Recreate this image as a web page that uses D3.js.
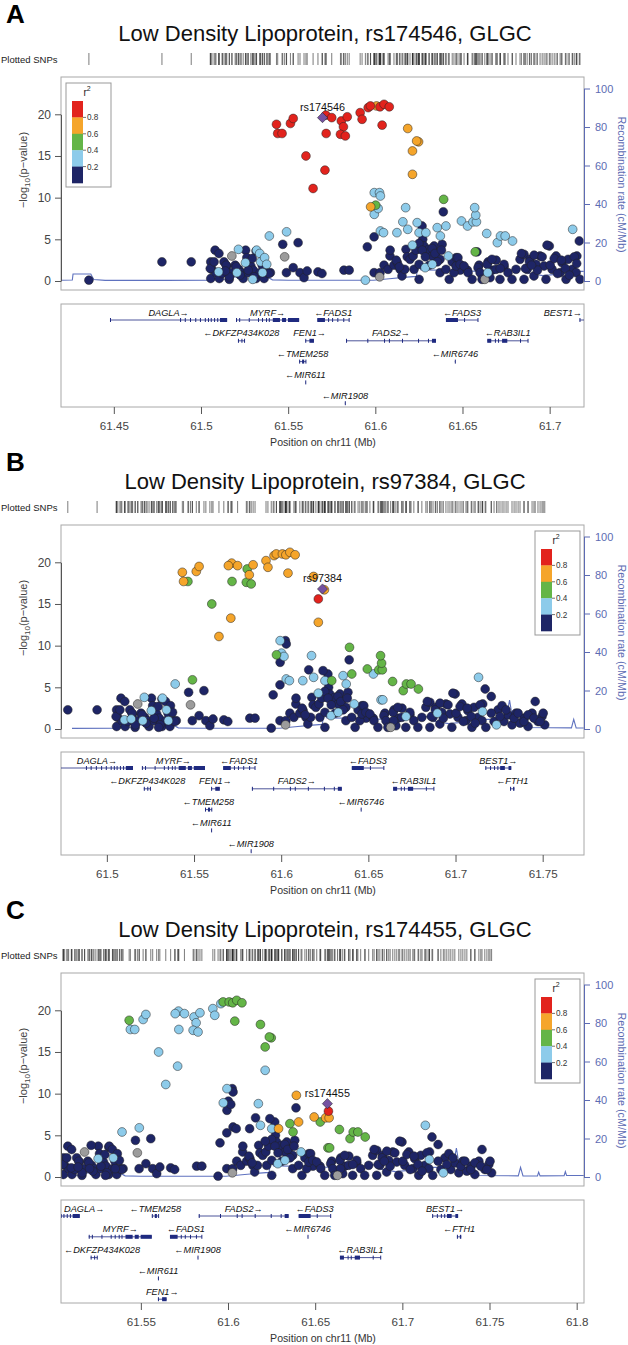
<!DOCTYPE html>
<html><head><meta charset="utf-8">
<script src="https://cdn.jsdelivr.net/npm/d3@7"></script>
<style>
body{margin:0;background:#fff}
svg{display:block;font-family:"Liberation Sans",Arial,Helvetica,sans-serif}
</style>
</head><body>
<svg id="chart" width="628" height="1345"></svg>
<script>
// ---------------- DATA ----------------
// SNPs with r2 < 0.2 to every index SNP: [position Mb, -log10 p]
const bgSnps = [
[61.4357,0.1],[61.4776,2.3],[61.4944,2.3],
[61.5056,2.3],[61.5063,1.4],[61.5081,3.7],[61.5056,0.3],[61.5086,1.0],[61.5105,0.3],[61.5123,1.0],[61.5132,2.3],[61.5148,1.8],[61.5162,0.2],[61.5178,1.0],[61.5196,1.9],[61.5217,1.4],[61.5231,1.0],[61.5242,0.3],[61.5256,3.7],[61.5263,2.8],[61.5270,1.0],[61.5286,1.8],[61.5300,1.3],[61.5316,0.3],[61.5339,1.0],[61.5362,0.3],[61.5380,1.0],[61.5398,1.0],
[61.5053,1.5],[61.5075,2.3],[61.5103,3.3],[61.5121,0.9],[61.5144,1.9],[61.5163,0.5],[61.5202,1.7],[61.5225,0.7],[61.5271,1.3],[61.5294,2.7],[61.5305,0.5],[61.5316,3.6],[61.5351,1.9],[61.5390,0.9],
[61.5469,4.4],[61.5490,1.0],[61.5529,1.6],[61.5557,4.6],[61.5568,1.0],[61.5591,0.4],[61.5609,1.2],[61.5671,1.1],[61.5694,0.9],[61.5820,1.3],[61.5850,1.3],
[61.5954,4.1],[61.5993,5.3],[61.5993,1.0],[61.6027,1.0],[61.6050,1.9],[61.6073,1.4],[61.6084,3.0],[61.6107,1.9],[61.6126,2.2],[61.6142,1.4],[61.6153,0.6],[61.6169,1.4],[61.6176,3.8],[61.6183,2.9],[61.6199,2.6],[61.6217,3.0],[61.6222,1.4],[61.6233,3.7],[61.6251,0.2],[61.6251,2.0],[61.6268,6.6],[61.6272,5.0],[61.6279,4.2],[61.6291,3.4],[61.6307,3.8],[61.6325,3.0],[61.6337,4.2],[61.6348,3.4],[61.6371,2.6],[61.6383,4.4],[61.6390,8.3],[61.6371,1.0],[61.6405,1.4],[61.6424,0.2],
[61.6085,3.7],[61.6120,2.5],[61.6138,1.7],[61.6250,4.5],[61.6269,3.7],[61.6287,2.9],[61.6310,1.9],[61.6326,3.9],[61.6342,3.3],[61.6356,2.3],[61.6379,3.7],[61.6441,2.3],[61.6464,2.8],[61.6487,1.3],[61.6528,1.3],[61.6595,1.9],[61.6613,0.7],[61.6647,2.3],[61.6670,1.3],[61.6693,2.5],[61.6739,1.7],
[61.6451,1.0],[61.6463,1.8],[61.6474,2.8],[61.6486,2.0],[61.6509,1.8],[61.6532,1.0],[61.6555,0.2],[61.6589,1.6],[61.6601,1.0],[61.6612,0.2],[61.6642,2.0],[61.6658,0.4],[61.6669,2.6],[61.6692,1.4],[61.6715,0.2],[61.6738,2.0],[61.6761,1.0],[61.6784,0.2],[61.6807,1.4],[61.6830,2.6],[61.6853,0.2],[61.6853,3.2],[61.6871,1.4],[61.6887,2.6],[61.6910,0.6],[61.6922,2.0],[61.6945,3.0],[61.6968,1.8],[61.6979,0.2],[61.6998,4.2],[61.7014,1.4],[61.7037,3.0],[61.7060,1.0],[61.7071,2.2],[61.7094,0.2],[61.7106,2.6],[61.7129,1.4],[61.7152,1.0],[61.7156,3.0],[61.7170,4.8],[61.7174,0.2],
[61.6838,3.3],[61.6861,1.5],[61.6884,2.3],[61.6911,3.1],[61.6930,1.3],[61.6957,2.9],[61.6985,4.3],[61.7003,1.9],[61.7026,2.7],[61.7045,0.9],[61.7067,2.5],[61.7090,1.5],[61.7113,0.7],[61.7141,2.9],
[61.7205,3.9],[61.7244,2.3],[61.7267,2.8],[61.7278,0.9],[61.7301,1.7],[61.7324,0.5],[61.7347,1.9],[61.7370,0.7],[61.7393,1.3],[61.7416,0.3],[61.7439,1.9],[61.7457,3.3],[61.7473,0.9],[61.7496,1.5],[61.7512,0.5],
[61.7205,1.9],[61.7221,0.9],[61.7255,1.5],[61.7290,2.3],[61.7336,1.3],[61.7359,1.9],[61.7393,0.9],[61.7416,1.7],[61.7450,1.3],[61.7485,0.9],[61.7503,1.9]
];
// SNPs without LD information (grey)
const naSnps = [[61.5177,3.0],[61.5480,2.9],[61.6025,0.5],[61.6628,0.2]];
// SNPs coloured in at least one panel: [Mb, -log10 p, LD bin vs rs174546, vs rs97384, vs rs174455]
// bins: 0 <0.2, 1 0.2-0.4, 2 0.4-0.6, 3 0.6-0.8, 4 >=0.8, 5 = index SNP
const ldSnps = [
[61.5433,18.8,4,3,2],[61.5440,17.7,4,3,1],[61.5465,17.7,4,2,1],[61.5513,18.9,4,3,1],[61.5529,19.5,4,3,1],
[61.5602,15.0,4,2,1],[61.5643,11.1,4,3,1],[61.5711,13.3,4,3,1],[61.5716,19.9,4,3,1],[61.5718,17.7,4,2,1],
[61.5750,19.6,4,3,1],[61.5805,19.2,4,2,1],[61.5817,18.5,4,3,1],[61.5800,17.6,4,2,1],[61.5828,17.4,4,2,1],
[61.5839,19.7,4,3,1],[61.5913,20.2,4,3,1],[61.5924,19.4,4,3,1],[61.5959,20.8,4,3,1],[61.5972,21.0,4,3,2],
[61.6007,21.0,3,3,2],[61.6027,20.9,4,3,2],[61.6050,21.2,4,3,2],[61.6080,20.9,4,3,2],[61.6039,18.7,4,3,2],
[61.6186,18.3,3,3,2],[61.6248,16.7,3,3,2],[61.6213,15.6,3,4,2],[61.6213,12.8,3,3,1],[61.5973,8.9,3,2,1],
[61.6002,9.1,2,1,0],[61.5994,10.6,1,1,1],[61.6024,10.6,1,0,0],[61.6029,10.2,1,0,0],[61.5994,8.0,1,0,0],
[61.6016,8.7,1,1,0],[61.6029,6.0,1,1,0],[61.6047,5.8,1,1,0],[61.6124,5.8,1,1,0],[61.6158,7.1,1,0,0],
[61.6174,8.8,1,1,1],[61.6186,6.2,1,1,1],[61.6213,4.3,1,1,0],[61.6240,7.0,1,0,0],[61.6251,5.8,1,1,1],
[61.6290,5.8,1,2,3],[61.6286,1.6,1,1,1],[61.6327,2.0,1,1,1],[61.6355,6.4,1,1,2],[61.6373,5.4,1,1,2],
[61.6392,9.8,2,2,3],[61.6405,6.6,1,2,3],[61.6419,3.0,1,1,1],[61.6494,7.2,1,2,3],[61.6529,6.6,1,1,2],
[61.6560,7.1,1,2,3],[61.6580,7.1,1,2,3],[61.6576,7.9,1,2,4],[61.6573,3.5,2,1,2],[61.6583,3.5,0,1,2],
[61.6639,5.7,1,2,2],[61.6700,4.6,1,2,2],[61.6718,5.4,1,2,2],[61.6745,5.4,1,2,2],[61.6787,4.8,1,2,2],
[61.5392,5.4,1,1,1],[61.5491,5.9,1,2,1],[61.5101,1.1,1,1,0],[61.5140,1.2,0,1,0],[61.5206,1.0,1,1,0],
[61.5215,3.8,1,1,0],[61.5255,2.2,1,1,1],[61.5319,3.7,1,1,0],[61.5337,3.3,1,0,0],[61.5342,2.3,1,1,1],
[61.5365,2.8,1,0,0],[61.5377,2.0,1,0,0],[61.5353,1.0,1,1,0],[61.5297,0.2,1,0,0],[61.7132,6.2,1,1,1],
[61.7155,2.1,0,1,1],[61.7235,0.5,0,1,1],[61.6896,1.9,0,1,0],[61.6645,1.0,1,0,0],[61.6716,1.5,0,1,0],
[61.5943,0.1,1,0,0],
[61.5697,19.6,5,3,1],[61.6237,16.8,3,5,2],[61.6570,8.8,1,2,5]
];
// recombination rate (cM/Mb)
const recombRate = [
[61.4197,0.4],[61.4262,0.5],[61.4266,3.6],[61.4368,3.6],[61.4385,0.8],[61.4450,0.3],[61.4800,0.3],[61.5050,0.4],[61.5150,1.0],[61.5200,2.2],[61.5255,3.8],[61.5320,4.2],[61.5370,2.6],[61.5410,0.6],[61.5500,0.4],[61.5990,0.4],[61.6080,1.2],[61.6180,2.0],[61.6235,2.4],[61.6247,8.2],[61.6262,5.8],[61.6400,5.6],[61.6600,5.0],[61.6760,5.4],[61.6830,6.6],[61.6880,4.0],[61.6960,2.8],[61.7060,3.6],[61.7180,5.0],[61.7290,5.0],[61.7310,15.0],[61.7330,4.0],[61.7400,0.8],[61.7665,0.6],[61.7678,5.0],[61.7692,0.6],[61.7775,0.5],[61.7782,2.5],[61.7790,0.6],[61.7928,0.7],[61.7935,2.8],[61.7942,0.8],[61.8042,0.8]
];
// genes: [name, strand, start, end, exons]
const genes = [
["DAGLA","+",61.4478,61.5150,[[61.4478,61.4481],[61.4880,61.4884],[61.4907,61.4910],[61.4937,61.4940],[61.4967,61.4970],[61.4994,61.4997],[61.5022,61.5026],[61.5040,61.5044],[61.5056,61.5060],[61.5075,61.5079],[61.5093,61.5097],[61.5109,61.5150]]],
["MYRF","+",61.5201,61.5563,[[61.5201,61.5204],[61.5219,61.5222],[61.5274,61.5277],[61.5327,61.5330],[61.5350,61.5353],[61.5373,61.5376],[61.5389,61.5392],[61.5412,61.5453],[61.5465,61.5488],[61.5499,61.5563]]],
["FADS1","-",61.5667,61.5850,[[61.5667,61.5711],[61.5729,61.5732],[61.5752,61.5755],[61.5782,61.5785],[61.5816,61.5819],[61.5847,61.5850]]],
["FADS3","-",61.6405,61.6589,[[61.6405,61.6474],[61.6509,61.6512],[61.6586,61.6589]]],
["BEST1","+",61.7171,61.7320,[[61.7171,61.7174],[61.7198,61.7201],[61.7221,61.7224],[61.7240,61.7243],[61.7256,61.7283],[61.7304,61.7320]]],
["DKFZP434K028","-",61.5212,61.5251,[[61.5212,61.5216],[61.5232,61.5235],[61.5247,61.5251]]],
["FEN1","+",61.5598,61.5648,[[61.5598,61.5601],[61.5622,61.5648]]],
["FADS2","+",61.5832,61.6348,[[61.5832,61.5835],[61.5954,61.5957],[61.6050,61.6053],[61.6078,61.6081],[61.6153,61.6156],[61.6245,61.6248],[61.6302,61.6305],[61.6325,61.6348]]],
["RAB3IL1","-",61.6642,61.6876,[[61.6642,61.6665],[61.6686,61.6689],[61.6704,61.6707],[61.6727,61.6757],[61.6830,61.6833],[61.6873,61.6876]]],
["TMEM258","-",61.5563,61.5602,[[61.5563,61.5566],[61.5580,61.5592],[61.5599,61.5602]]],
["MIR6746","-",61.6456,61.6457,[[61.6456,61.6457]]],
["MIR611","-",61.5598,61.5599,[[61.5598,61.5599]]],
["MIR1908","-",61.5825,61.5826,[[61.5825,61.5826]]],
["FTH1","-",61.7313,61.7338,[[61.7313,61.7318],[61.7330,61.7338]]]
];
const geneRowsA = {DAGLA:0,MYRF:0,FADS1:0,FADS3:0,BEST1:0,DKFZP434K028:1,FEN1:1,FADS2:1,RAB3IL1:1,TMEM258:2,MIR6746:2,MIR611:3,MIR1908:4};
const geneRowsB = {DAGLA:0,MYRF:0,FADS1:0,FADS3:0,BEST1:0,DKFZP434K028:1,FEN1:1,FADS2:1,RAB3IL1:1,FTH1:1,TMEM258:2,MIR6746:2,MIR611:3,MIR1908:4};
const geneRowsC = {DAGLA:0,TMEM258:0,FADS2:0,FADS3:0,BEST1:0,MYRF:1,FADS1:1,MIR6746:1,FTH1:1,DKFZP434K028:2,MIR1908:2,RAB3IL1:2,MIR611:3,FEN1:4};
const ticksA = [61.45,61.5,61.55,61.6,61.65,61.7];
const ticksB = [61.5,61.55,61.6,61.65,61.7,61.75];
const ticksC = [61.55,61.6,61.65,61.7,61.75,61.8];
const yTicks = [0,5,10,15,20];
const recombTicks = [0,20,40,60,80,100];
const legendBreaks = ["0.8","0.6","0.4","0.2"];

const panels = [
 {letter:"A", title:"Low Density Lipoprotein, rs174546, GLGC", lead:"rs174546", domain:[61.4197,61.7197], ticks:ticksA, col:2, rows:geneRowsA, legendLeft:66},
 {letter:"B", title:"Low Density Lipoprotein, rs97384, GLGC", lead:"rs97384", domain:[61.4737,61.7737], ticks:ticksB, col:3, rows:geneRowsB, legendLeft:535},
 {letter:"C", title:"Low Density Lipoprotein, rs174455, GLGC", lead:"rs174455", domain:[61.5042,61.8042], ticks:ticksC, col:4, rows:geneRowsC, legendLeft:535}
];

// ---------------- STYLE ----------------
const binColor = {0:"#1e2566",1:"#8dcbea",2:"#64b547",3:"#f5a52b",4:"#e2231d",5:"#7552a1",9:"#9c9c9c"};
const legendColors = ["#e2231d","#f5a52b","#64b547","#8dcbea","#1e2566"];
const drawOrder = {0:0,9:1,1:2,2:3,3:4,4:5,5:6};
const recColor = "#5f72bf";
const axisBlue = "#5d6bb3";
const geneColor = "#1f2a80";

const svg = d3.select("#chart");
const PANEL_H = 448;
const box = {l:61, r:584, t:77, b:290};
const gbox = {t:304, b:407};

panels.forEach((p, i) => {
  const g = svg.append("g").attr("transform", `translate(0,${i*PANEL_H})`);
  const x = d3.scaleLinear().domain(p.domain).range([box.l, box.r]);
  const y = d3.scaleLinear().domain([0,20]).range([281,114.3]);
  const yr = d3.scaleLinear().domain([0,100]).range([281,88.5]);

  // letter + title
  g.append("text").attr("x",6).attr("y",23).attr("font-size",26).attr("font-weight","bold").text(p.letter);
  g.append("text").attr("x",325).attr("y",41).attr("text-anchor","middle").attr("font-size",22).attr("fill","#111").text(p.title);

  // points list
  const pts = [];
  bgSnps.forEach(d => pts.push({mb:d[0], lp:d[1], bin:0}));
  naSnps.forEach(d => pts.push({mb:d[0], lp:d[1], bin:9}));
  ldSnps.forEach(d => pts.push({mb:d[0], lp:d[1], bin:d[p.col]}));
  const vis = pts.filter(d => d.mb >= p.domain[0] && d.mb <= p.domain[1]);
  vis.sort((a,b) => drawOrder[a.bin]-drawOrder[b.bin]);

  // Plotted SNPs rug
  g.append("text").attr("x",1).attr("y",63).attr("font-size",9.5).attr("fill","#222").text("Plotted SNPs");
  g.append("g").selectAll("line").data(vis).join("line")
    .attr("x1",d=>x(d.mb)).attr("x2",d=>x(d.mb)).attr("y1",53).attr("y2",65)
    .attr("stroke","#222").attr("stroke-width",0.6);

  // clip
  const cid = "clip"+i, gcid = "gclip"+i;
  g.append("clipPath").attr("id",cid).append("rect").attr("x",box.l).attr("y",box.t).attr("width",box.r-box.l).attr("height",box.b-box.t);
  g.append("clipPath").attr("id",gcid).append("rect").attr("x",box.l).attr("y",gbox.t).attr("width",box.r-box.l).attr("height",gbox.b-gbox.t);

  // recombination line
  g.append("path").attr("clip-path",`url(#${cid})`)
    .datum(recombRate.filter(d => d[0] >= p.domain[0]-0.01 && d[0] <= p.domain[1]+0.01))
    .attr("d", d3.line().x(d=>x(d[0])).y(d=>yr(d[1])))
    .attr("fill","none").attr("stroke",recColor).attr("stroke-width",1.1);

  // points
  const pg = g.append("g").attr("clip-path",`url(#${cid})`);
  vis.filter(d=>d.bin!==5).forEach(d => {
    pg.append("circle").attr("cx",x(d.mb)).attr("cy",y(d.lp)).attr("r",4.4)
      .attr("fill",binColor[d.bin]).attr("stroke","#222").attr("stroke-width",0.5);
  });
  const lead = vis.find(d=>d.bin===5);
  if (lead) {
    pg.append("rect").attr("x",-3.6).attr("y",-3.6).attr("width",7.2).attr("height",7.2)
      .attr("transform",`translate(${x(lead.mb)},${y(lead.lp)}) rotate(45)`)
      .attr("fill",binColor[5]).attr("stroke","#222").attr("stroke-width",0.5);
    g.append("text").attr("x",x(lead.mb)).attr("y",y(lead.lp)-7).attr("text-anchor","middle")
      .attr("font-size",10.8).attr("fill","#111").text(p.lead);
  }

  // plot box
  g.append("rect").attr("x",box.l).attr("y",box.t).attr("width",box.r-box.l).attr("height",box.b-box.t)
    .attr("fill","none").attr("stroke","#a8a8a8").attr("stroke-width",1);

  // left axis
  const la = g.append("g").attr("transform",`translate(${box.l},0)`)
    .call(d3.axisLeft(y).tickValues(yTicks).tickSize(6).tickSizeOuter(0).tickPadding(4));
  la.selectAll("text").attr("font-size",12).attr("fill","#444").attr("font-family","Liberation Sans, Arial, sans-serif");
  la.selectAll("line,path").attr("stroke","#555");
  const yl = g.append("text").attr("transform","translate(27,170) rotate(-90)").attr("text-anchor","middle")
    .attr("font-size",11).attr("fill","#444");
  yl.append("tspan").text("\u2212log");
  yl.append("tspan").attr("font-size",8).attr("dy",3).text("10");
  yl.append("tspan").attr("dy",-3).text("(p\u2212value)");

  // right axis
  const ra = g.append("g").attr("transform",`translate(${box.r},0)`)
    .call(d3.axisRight(yr).tickValues(recombTicks).tickSize(6).tickSizeOuter(0).tickPadding(5));
  ra.selectAll("text").attr("font-size",11).attr("fill",axisBlue).attr("font-family","Liberation Sans, Arial, sans-serif");
  ra.selectAll("line,path").attr("stroke",axisBlue);
  g.append("text").attr("transform","translate(618,184.5) rotate(90)").attr("text-anchor","middle")
    .attr("font-size",10.8).attr("fill",axisBlue).text("Recombination rate (cM/Mb)");

  // legend
  const L = p.legendLeft, T = 83;
  const lg = g.append("g");
  lg.append("rect").attr("x",L).attr("y",T).attr("width",45).attr("height",104).attr("fill","#fff").attr("stroke","#999");
  const rt = lg.append("text").attr("x",L+21).attr("y",T+13).attr("text-anchor","middle").attr("font-size",10).attr("fill","#222");
  rt.append("tspan").text("r");
  rt.append("tspan").attr("font-size",7).attr("dy",-5).text("2");
  const segH = 16.4;
  legendColors.forEach((c,k) => {
    lg.append("rect").attr("x",L+6).attr("y",T+18+k*segH).attr("width",11).attr("height",segH+0.3).attr("fill",c);
  });
  legendBreaks.forEach((t,k) => {
    const yy = T+18+(k+1)*segH;
    lg.append("line").attr("x1",L+17).attr("x2",L+20).attr("y1",yy).attr("y2",yy).attr("stroke","#333").attr("stroke-width",0.7);
    lg.append("text").attr("x",L+21).attr("y",yy+3).attr("font-size",8.2).attr("fill","#333").text(t);
  });

  // gene panel
  g.append("rect").attr("x",box.l).attr("y",gbox.t).attr("width",box.r-box.l).attr("height",gbox.b-gbox.t)
    .attr("fill","none").attr("stroke","#a8a8a8");
  const gg = g.append("g").attr("clip-path",`url(#${gcid})`);
  const lbl = g.append("g");
  genes.forEach(ge => {
    const [name, strand, s, e, exons] = ge;
    const row = p.rows[name];
    if (row === undefined) return;
    if (e < p.domain[0] || s > p.domain[1]) return;
    const ly = 320 + row*20.8;
    gg.append("line").attr("x1",x(s)).attr("x2",x(e)).attr("y1",ly).attr("y2",ly).attr("stroke",geneColor).attr("stroke-width",0.8);
    exons.forEach(ex => {
      const w = Math.max(1, x(ex[1])-x(ex[0]));
      gg.append("rect").attr("x",x(ex[0])).attr("y",ly-2).attr("width",w).attr("height",4).attr("fill",geneColor);
    });
    const label = strand === "+" ? name + "\u2192" : "\u2190" + name;
    const mid = (x(Math.max(s,p.domain[0])) + x(Math.min(e,p.domain[1])))/2;
    const t = lbl.append("text").attr("y",ly-4.5).attr("font-size",9.2).attr("font-style","italic").attr("fill","#111")
      .attr("text-anchor","middle").attr("x",mid).text(label);
    const bb = t.node().getBBox();
    if (bb.x < box.l+3) t.attr("x", mid + (box.l+3-bb.x));
    if (bb.x+bb.width > box.r-2) t.attr("x", mid - (bb.x+bb.width-(box.r-2)));
  });

  // x axis
  const xa = g.append("g").attr("transform",`translate(0,${gbox.b})`)
    .call(d3.axisBottom(x).tickValues(p.ticks).tickFormat(d=>String(d)).tickSize(7).tickSizeOuter(0).tickPadding(8));
  xa.select(".domain").remove();
  xa.selectAll("text").attr("font-size",11.6).attr("fill","#444").attr("font-family","Liberation Sans, Arial, sans-serif");
  xa.selectAll("line").attr("stroke","#555");
  g.append("text").attr("x",323).attr("y",446).attr("text-anchor","middle").attr("font-size",10.6).attr("fill","#333")
    .text("Position on chr11 (Mb)");
});
</script>
</body></html>
